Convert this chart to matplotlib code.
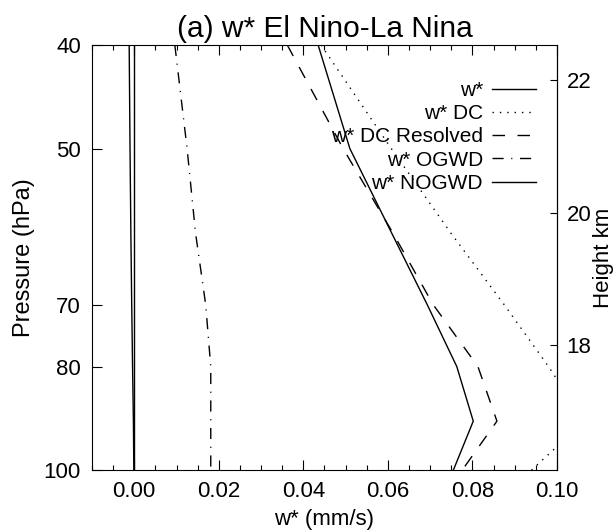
import numpy as np
import matplotlib
matplotlib.use('Agg')
import matplotlib.pyplot as plt
from matplotlib.ticker import FixedLocator, MultipleLocator, NullLocator, FormatStrFormatter

plt.rcParams['font.family'] = ['Liberation Sans', 'DejaVu Sans']
plt.rcParams['lines.scale_dashes'] = False

# pressure levels (hPa)
pres = [40, 50, 60, 70, 80, 90, 100]

# w* differences El Nino - La Nina (mm/s)
w_star = [0.0435, 0.0510, 0.0609, 0.0693, 0.0763, 0.0802, 0.0755]
w_dc = [0.0442, 0.0608, 0.0749, 0.0875, 0.0980, 0.1065, 0.0940]
w_dc_res = [0.0362, 0.0494, 0.0612, 0.0707, 0.0813, 0.0858, 0.0776]
w_ogwd = [0.0096, 0.0125, 0.0145, 0.0169, 0.0181, 0.0181, 0.0181]
w_nogwd = [-0.0012, -0.0010, -0.0008, -0.0006, -0.0004, -0.0002, -0.0001]

p_ticks = [40, 50, 70, 80, 100]
z_ticks = [18, 20, 22]
H = 7.0  # scale height km

fig = plt.figure(figsize=(6.14, 5.32), dpi=100)
ax = fig.add_axes([0.1498, 0.1165, 0.7573, 0.7989])

lw = 1.0
ax.plot(w_star, pres, color='black', lw=lw, label='w*')
ax.plot(w_dc, pres, color='black', lw=lw, linestyle=(0, (1.0, 4.3)), label='w* DC')
ax.plot(w_dc_res, pres, color='black', lw=lw, linestyle=(0, (9, 9)), label='w* DC Resolved')
ax.plot(w_ogwd, pres, color='black', lw=lw, linestyle=(0, (8, 5.5, 0.8, 5.5)), label='w* OGWD')
ax.plot(w_nogwd, pres, color='black', lw=lw, label='w* NOGWD')
ax.axvline(0, color='black', lw=lw)

ax.set_yscale('log')
ax.set_ylim(100, 40)
ax.yaxis.set_major_locator(FixedLocator(p_ticks))
ax.yaxis.set_minor_locator(NullLocator())
ax.set_yticklabels([str(p) for p in p_ticks])

ax.set_xlim(-0.01, 0.10)
ax.xaxis.set_major_locator(MultipleLocator(0.02))
ax.xaxis.set_minor_locator(MultipleLocator(0.005))
ax.xaxis.set_major_formatter(FormatStrFormatter('%.2f'))

ax.tick_params(axis='both', which='major', direction='in', length=7, width=0.8, labelsize=16, pad=8)
ax.tick_params(axis='x', which='both', top=True)
ax.tick_params(axis='x', which='minor', direction='in', length=3.5, width=0.8)
ax.tick_params(axis='y', right=False)
for s in ax.spines.values():
    s.set_linewidth(0.8)

ax.set_xlabel('w* (mm/s)', fontsize=16, labelpad=5)
ax.set_ylabel('Pressure (hPa)', fontsize=17, labelpad=6)
ax.set_title('(a) w* El Nino-La Nina', fontsize=21.5, pad=6)

sec = ax.secondary_yaxis('right', functions=(lambda p: H * np.log(1000.0 / p),
                                             lambda z: 1000.0 * np.exp(-z / H)))
sec.set_yticks(z_ticks)
sec.set_yticklabels([str(z) for z in z_ticks])
sec.yaxis.set_minor_locator(NullLocator())
sec.tick_params(axis='y', direction='in', length=5, width=0.8, labelsize=16, pad=7)
sec.set_ylabel('Height km', fontsize=16, labelpad=1)

leg = ax.legend(loc='upper right', bbox_to_anchor=(0.955, 0.915), frameon=False,
                markerfirst=False, fontsize=15, handlelength=2.1, handletextpad=0.45,
                labelspacing=0.2, borderpad=0, borderaxespad=0)

fig.savefig('out.png', dpi=100)
